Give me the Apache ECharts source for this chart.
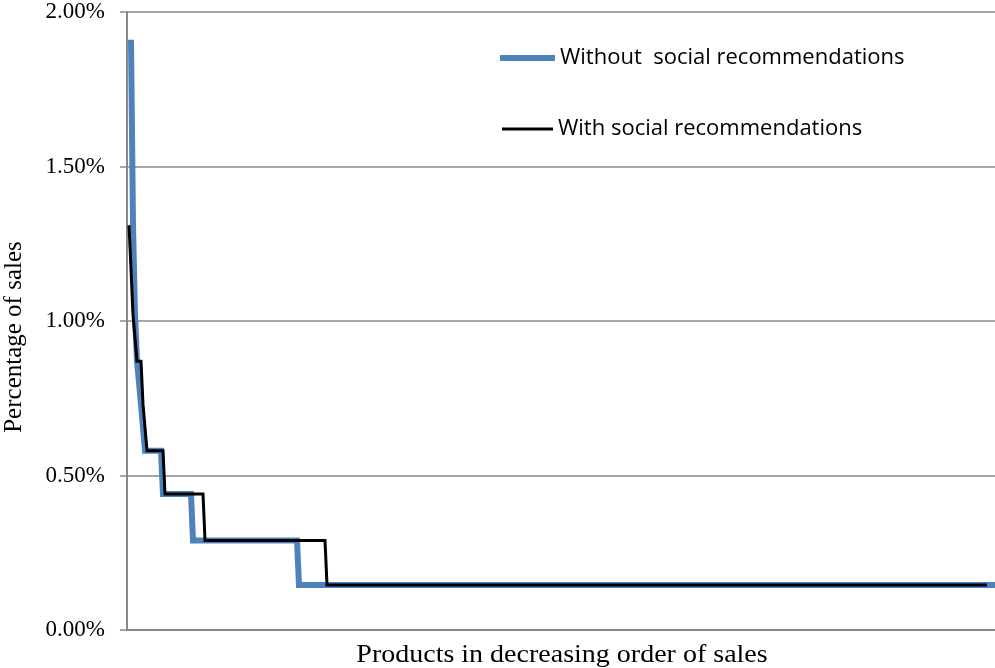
<!DOCTYPE html>
<html>
<head>
<meta charset="utf-8">
<script src="https://cdn.jsdelivr.net/npm/echarts@6/dist/echarts.min.js"></script>
<style>
  html, body { margin: 0; padding: 0; background: #fff; }
  #chart { width: 995px; height: 668px; }
</style>
</head>
<body>
<div id="chart"></div>
<script>
// Number of products ranked along the horizontal axis
const productCount = 434;

// Sales share (%) at each level, and the last product rank holding that level
const withoutShare    = [1.91, 1.31, 1.02, 0.87, 0.73, 0.58, 0.44, 0.29, 0.146];
const withoutLastRank = [2,    3,    4,    6,    8,    17,   32,   85,   434];
const withoutFirstRank = 2;

const withShare    = [1.31, 1.17, 1.02, 0.87, 0.73, 0.58, 0.44, 0.29, 0.146];
const withLastRank = [1,    2,    4,    7,    9,    18,   38,   99,   430];
const withFirstRank = 1;

// Y-axis ticks (%)
const yTicks = [0, 0.5, 1.0, 1.5, 2.0];

const seriesNames = ['Without  social recommendations', 'With social recommendations'];
const xTitle = 'Products in decreasing order of sales';
const yTitle = 'Percentage of sales';

// Turn sales levels into line vertices: first and last rank of every level
function levelPoints(shares, lastRanks, firstRank) {
  const pts = [];
  let start = firstRank;
  for (let i = 0; i < shares.length; i++) {
    pts.push([start, shares[i]]);
    if (lastRanks[i] > start) pts.push([lastRanks[i], shares[i]]);
    start = lastRanks[i] + 1;
  }
  return pts;
}

const chart = echarts.init(document.getElementById('chart'), null, { renderer: 'canvas' });

const serif = '"Liberation Serif", "Times New Roman", serif';
const sans = '"Open Sans", "Liberation Sans", sans-serif';
const grey = '#888888';

chart.setOption({
  animation: false,
  backgroundColor: '#ffffff',
  grid: { left: 127, right: 0, top: 12, bottom: 38, containLabel: false, outerBoundsMode: 'none' },
  legend: [
    {
      data: [seriesNames[0]],
      left: 500, top: 47, padding: 0,
      itemWidth: 55, itemHeight: 6,
      icon: 'rect',
      textStyle: { fontFamily: sans, fontSize: 22, color: '#000' }
    },
    {
      data: [seriesNames[1]],
      left: 502, top: 118, padding: 0,
      itemWidth: 51, itemHeight: 3,
      icon: 'rect',
      textStyle: { fontFamily: sans, fontSize: 22, color: '#000' }
    }
  ],
  graphic: [
    {
      type: 'text',
      x: 562, y: 655,
      scaleX: 1.12,
      style: {
        text: xTitle, fontFamily: serif, fontSize: 25, fill: '#000',
        textAlign: 'center', textVerticalAlign: 'middle'
      }
    },
    {
      type: 'text',
      x: 14, y: 337,
      rotation: Math.PI / 2,
      style: {
        text: yTitle, fontFamily: serif, fontSize: 25, fill: '#000',
        textAlign: 'center', textVerticalAlign: 'middle'
      }
    }
  ],
  xAxis: {
    type: 'value',
    min: 0,
    max: productCount,
    axisLine: { show: true, onZero: false, lineStyle: { color: grey, width: 2 } },
    axisTick: { show: false },
    axisLabel: { show: false },
    splitLine: { show: false }
  },
  yAxis: {
    type: 'value',
    min: yTicks[0],
    max: yTicks[yTicks.length - 1],
    interval: yTicks[1] - yTicks[0],
    axisLine: { show: true, lineStyle: { color: grey, width: 2 } },
    axisTick: { show: true, inside: false, length: 7, lineStyle: { color: grey, width: 1.5 } },
    axisLabel: {
      margin: 22,
      fontFamily: serif, fontSize: 23, color: '#000',
      formatter: v => v.toFixed(2) + '%'
    },
    splitLine: { show: true, lineStyle: { color: grey, width: 1.5 } }
  },
  series: [
    {
      name: seriesNames[0],
      type: 'line',
      data: levelPoints(withoutShare, withoutLastRank, withoutFirstRank),
      showSymbol: false,
      symbol: 'none',
      itemStyle: { color: '#4f81bd' },
      lineStyle: { color: '#4f81bd', width: 6, cap: 'butt', join: 'miter' },
      z: 2
    },
    {
      name: seriesNames[1],
      type: 'line',
      data: levelPoints(withShare, withLastRank, withFirstRank),
      showSymbol: false,
      symbol: 'none',
      itemStyle: { color: '#000000' },
      lineStyle: { color: '#000000', width: 3, cap: 'butt', join: 'miter' },
      z: 3
    }
  ]
});
</script>
</body>
</html>
